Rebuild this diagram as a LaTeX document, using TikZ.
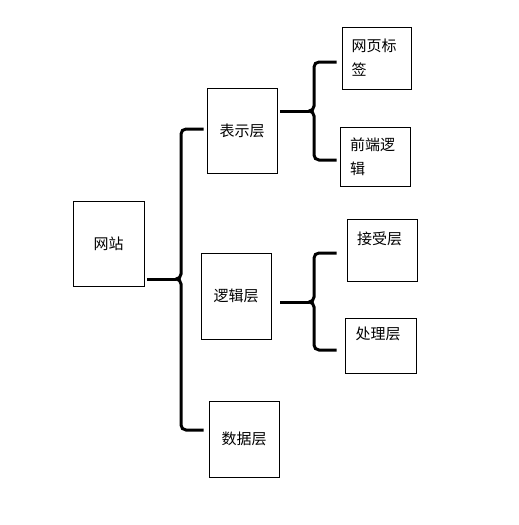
\documentclass[tikz,border=0pt]{standalone}
\usepackage{fontspec}
\newfontfamily\cjk{Noto Sans CJK SC}
\usetikzlibrary{positioning}

\begin{document}
\begin{tikzpicture}[
    x=1pt, y=-1pt,
    box/.style={draw, line width=0.8pt, inner sep=0pt, font=\cjk\fontsize{15}{24}\selectfont},
    leaf/.style={box, align=left, text width=50pt},
    brace/.style={line width=3pt, rounded corners=5pt}
]
    \useasboundingbox (0,0) rectangle (519,525);

    % Root
    \node[box, minimum width=71pt, minimum height=85pt] (site) at (108.5,243.5) {网站};

    % Layers
    \node[box, minimum width=70pt, minimum height=85pt] (show) at (242,130.5) {表示层};
    \node[box, minimum width=70pt, minimum height=86pt] (logic) at (236,296) {逻辑层};
    \node[box, minimum width=70pt, minimum height=76pt] (data) at (244,439) {数据层};

    % Leaves
    \node[leaf, minimum width=69pt, minimum height=62pt] (tag) at (376.5,58) {网页标\\签};
    \node[leaf, minimum width=70pt, minimum height=59pt] (front) at (375,156.5) {前端逻\\辑};
    \node[leaf, minimum width=70pt, minimum height=62pt] (recv) at (382,250) {接受层\\\mbox{}};
    \node[leaf, minimum width=71pt, minimum height=55pt] (proc) at (380.5,345.5) {处理层\\\mbox{}};

    % Brace: site -> layers
    \coordinate (rtop) at (181,129);
    \coordinate (rbot) at (181,430);
    \coordinate (rtip) at (176,279);
    \draw[brace] (rtop -| show.west) ++(-3,0) -- (rtop) -- (rtip -| rtop) -- (rtip);
    \draw[brace] (rbot -| data.west) ++(-5,0) -- (rbot) -- (rtip -| rtop) -- (rtip);
    \draw[brace] (rtip -| site.east) ++(3,0) -- (rtip);

    % Brace: show -> leaves
    \coordinate (ua) at (314,62);
    \coordinate (ub) at (314,160);
    \coordinate (utip) at (309,111);
    \draw[brace] (ua -| tag.west) ++(-5,0) -- (ua) -- (utip -| ua) -- (utip);
    \draw[brace] (ub -| front.west) ++(-3,0) -- (ub) -- (utip -| ua) -- (utip);
    \draw[brace] (utip -| show.east) ++(3,0) -- (utip);

    % Brace: logic -> leaves
    \coordinate (la) at (314,253);
    \coordinate (lb) at (314,350);
    \coordinate (ltip) at (309,302);
    \draw[brace] (la -| recv.west) ++(-10,0) -- (la) -- (ltip -| la) -- (ltip);
    \draw[brace] (lb -| proc.west) ++(-8,0) -- (lb) -- (ltip -| la) -- (ltip);
    \draw[brace] (ltip -| logic.east) ++(9,0) -- (ltip);

\end{tikzpicture}
\end{document}
